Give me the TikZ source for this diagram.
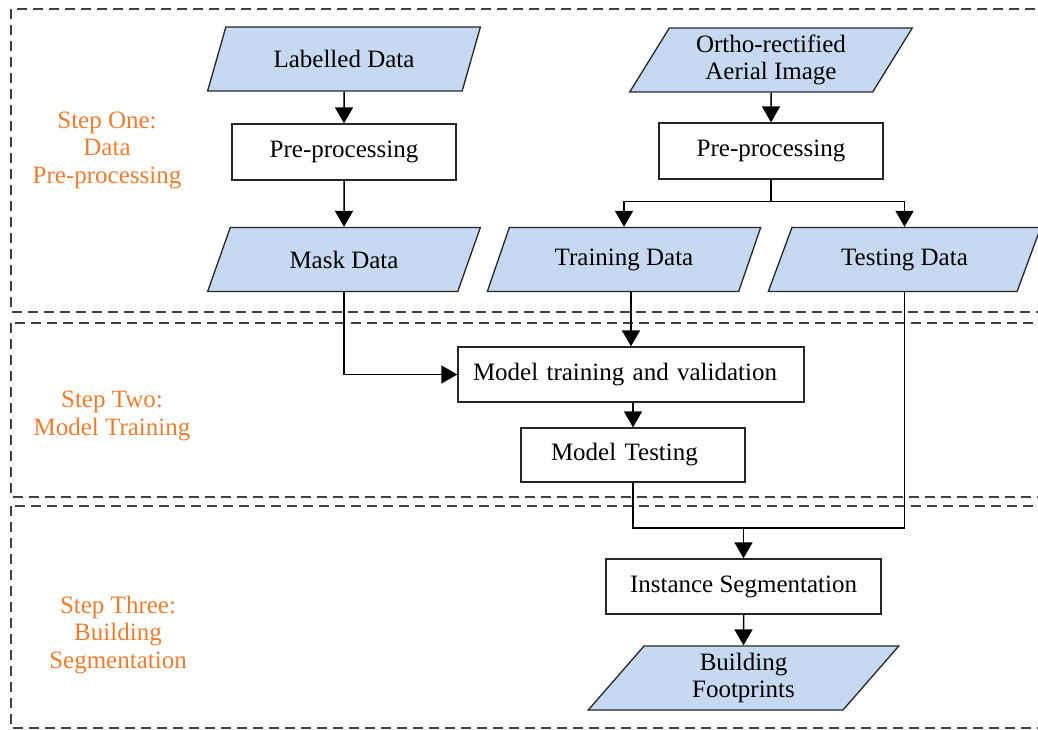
\documentclass[tikz,border=0pt]{standalone}
\usepackage{fontspec}
\setmainfont{Liberation Serif}
\usetikzlibrary{shapes.geometric,arrows.meta}
\definecolor{dataBlue}{HTML}{C6D9F0}
\definecolor{stepOrange}{HTML}{ED7D31}
\definecolor{dashGray}{HTML}{404040}
\begin{document}
\begin{tikzpicture}[x=1pt,y=-1pt, font=\fontsize{25}{27.5}\selectfont,
  databox/.style={trapezium, trapezium left angle=60.6, trapezium right angle=119.4,
    trapezium stretches=true, draw=black!85, line width=1.3pt, fill=dataBlue,
    minimum height=64pt, inner sep=1pt, align=center},
  procbox/.style={rectangle, draw=black!85, line width=1.3pt, fill=white,
    minimum height=55pt, inner sep=1pt, align=center},
  stepbox/.style={draw=dashGray, dash pattern=on 10pt off 6pt, line width=1.6pt},
  steplabel/.style={text=stepOrange, align=center},
  conn/.style={line width=1.5pt},
  arr/.style={conn, -{Triangle[length=16pt,width=18pt]}}]
\useasboundingbox (0,0) rectangle (1038,730);
\clip (0,0) rectangle (1038,730);
% step frames
\draw[stepbox] (11,9) rectangle (1060,312);
\draw[stepbox] (11,323) rectangle (1060,497);
\draw[stepbox] (11,506) rectangle (1060,728);
% step labels
\node[steplabel] (s1) at (107,150) {Step One:\\Data\\Pre-processing};
\node[steplabel] (s2) at (112,416) {Step Two:\\Model Training};
\node[steplabel] (s3) at (118,635) {Step Three:\\Building\\Segmentation};
% nodes
\node[databox, minimum width=273pt] (lab) at (344,59) {Labelled Data};
\node[procbox, minimum width=224pt, minimum height=56pt] (pre1) at (344,152) {Pre-processing};
\node[databox, minimum width=273pt] (mask) at (344,259.5) {Mask Data};
\node[databox, minimum width=283pt] (ortho) at (771,60) {Ortho-rectified\\Aerial Image};
\node[procbox, minimum width=224pt, minimum height=56pt] (pre2) at (771,151) {Pre-processing};
\node[databox, minimum width=274pt] (train) at (624,259.5) {Training Data};
\node[databox, minimum width=273pt] (test) at (904.5,259.5) {Testing Data};
\node[procbox, minimum width=346pt, text width=316pt, align=left] (mt) at (631,374.5) {Model training and validation};
\node[procbox, minimum width=224pt, minimum height=54pt, text width=164pt, align=left] (mtest) at (633,455) {Model Testing};
\node[procbox, minimum width=275pt] (inst) at (743.5,586.5) {Instance Segmentation};
\node[databox, minimum width=311pt] (build) at (743.5,678) {Building\\Footprints};
% connectors
\draw[arr] (lab) -- (pre1);
\draw[arr] (pre1) -- (mask);
\draw[arr] (ortho) -- (pre2);
\draw[conn] (pre2.south) -- ++(0,22) coordinate (br);
\draw[arr] (br) -| (train);
\draw[arr] (br) -| (test);
\draw[arr] (mask) |- (mt);
\draw[arr] (mt.north |- train.south) -- (mt.north);
\draw[arr] (mtest.north |- mt.south) -- (mtest.north);
\coordinate (jy) at (0,528);
\coordinate (j) at (inst.north |- jy);
\draw[conn] (mtest) |- (j);
\draw[conn] (test) |- (j);
\draw[arr] (j) -- (inst);
\draw[arr] (inst) -- (build);
\end{tikzpicture}
\end{document}
